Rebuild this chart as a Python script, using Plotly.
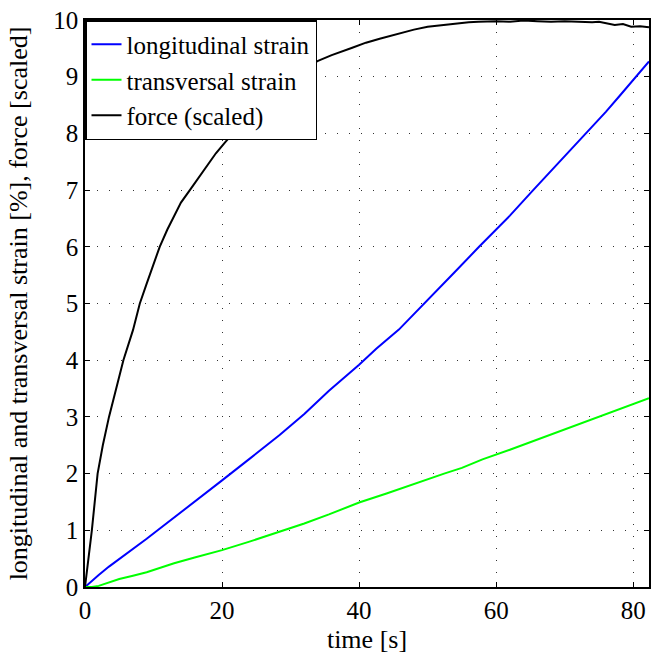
import plotly.graph_objects as go

# ---- data ----
t_long = [0, 1, 2, 3.5, 5, 7, 9, 10.6, 13.1, 16, 20, 24, 28.4, 32, 35.6, 40, 42.5, 45.8,
          48, 50.2, 54, 57.5, 60, 62, 65.4, 67.4, 70, 73.1, 76, 78, 80, 82.3]
long_strain = [0, 0.11, 0.21, 0.36, 0.49, 0.67, 0.85, 1.0, 1.23, 1.5, 1.88, 2.26, 2.68, 3.05, 3.46,
               3.92, 4.2, 4.54, 4.81, 5.08, 5.56, 6.0, 6.3, 6.55, 7.0, 7.26, 7.6, 8.0, 8.38, 8.66, 8.95, 9.27]

t_trans = [0, 1, 2, 3.5, 5, 7, 9, 11, 13, 16, 20, 24, 28.4, 32, 35.6, 40, 44, 48, 52.4, 55,
           58, 62, 66, 70, 74, 77, 80, 82.3]
trans_strain = [0, 0.0, 0.02, 0.08, 0.14, 0.2, 0.26, 0.34, 0.42, 0.52, 0.65, 0.8, 0.97, 1.12, 1.28,
                1.49, 1.65, 1.82, 2.0, 2.1, 2.25, 2.42, 2.6, 2.78, 2.96, 3.09, 3.22, 3.33]

t_force = [0, 0.5, 1, 1.84, 2.6, 3.5, 4.5, 5.6, 7, 8, 9, 10, 10.9, 12, 13, 14, 15.3, 16.5, 18,
           19.1, 20.5, 21.6, 23, 24.2, 26, 28, 30, 32, 34, 36, 39, 41, 43, 45.8, 48, 50, 52.1,
           54, 56, 57.4, 60, 62, 64, 66, 68, 70, 72, 74, 75, 76, 77.3, 78.5, 79.7, 81, 82.3]
force = [0, 0.5, 1.0, 2.0, 2.5, 3.0, 3.5, 4.0, 4.53, 5.0, 5.35, 5.7, 6.0, 6.3, 6.55, 6.78, 7.0,
         7.2, 7.45, 7.65, 7.85, 8.0, 8.15, 8.32, 8.6, 8.82, 9.0, 9.15, 9.28, 9.38, 9.51, 9.6,
         9.67, 9.76, 9.83, 9.88, 9.91, 9.94, 9.96, 9.97, 9.98, 9.97, 9.99, 9.98, 9.97, 9.98,
         9.97, 9.96, 9.97, 9.94, 9.91, 9.93, 9.88, 9.89, 9.87]

x_ticks = [0, 20, 40, 60, 80]
y_ticks = [0, 1, 2, 3, 4, 5, 6, 7, 8, 9, 10]

FONT = "Liberation Serif"
TICK_FS = 25
TEXT_FS = 26

fig = go.Figure()
fig.add_trace(go.Scatter(x=t_long, y=long_strain, mode="lines", name="longitudinal strain",
                         line=dict(color="#0000ff", width=2)))
fig.add_trace(go.Scatter(x=t_trans, y=trans_strain, mode="lines", name="transversal strain",
                         line=dict(color="#00ff00", width=2)))
fig.add_trace(go.Scatter(x=t_force, y=force, mode="lines", name="force (scaled)",
                         line=dict(color="#000000", width=2)))

axis_common = dict(
    showline=True, linecolor="black", linewidth=1.5, mirror="ticks",
    ticks="inside", ticklen=5, tickcolor="black", tickwidth=1,
    showgrid=True, gridcolor="#333333", gridwidth=1, griddash="1px,11px",
    zeroline=False, tickfont=dict(family=FONT, size=TICK_FS, color="black"),
)

fig.update_layout(
    width=651, height=654,
    margin=dict(l=85, r=0, t=20, b=67),
    paper_bgcolor="white", plot_bgcolor="white",
    font=dict(family=FONT, size=TICK_FS, color="black"),
    showlegend=True,
    legend=dict(x=0, y=1, xanchor="left", yanchor="top", bgcolor="white",
                bordercolor="black", borderwidth=1.5,
                font=dict(family=FONT, size=TICK_FS, color="black"),
                tracegroupgap=0),
    xaxis=dict(range=[0, 82.3], tickvals=x_ticks,
               title=dict(text="time [s]", font=dict(family=FONT, size=TEXT_FS, color="black"),
                          standoff=9),
               **axis_common),
    yaxis=dict(range=[0, 10], tickvals=y_ticks,
               title=dict(text="longitudinal and transversal strain [%], force [scaled]",
                          font=dict(family=FONT, size=TEXT_FS, color="black"), standoff=18),
               **axis_common),
)

fig.write_html("out.html")
